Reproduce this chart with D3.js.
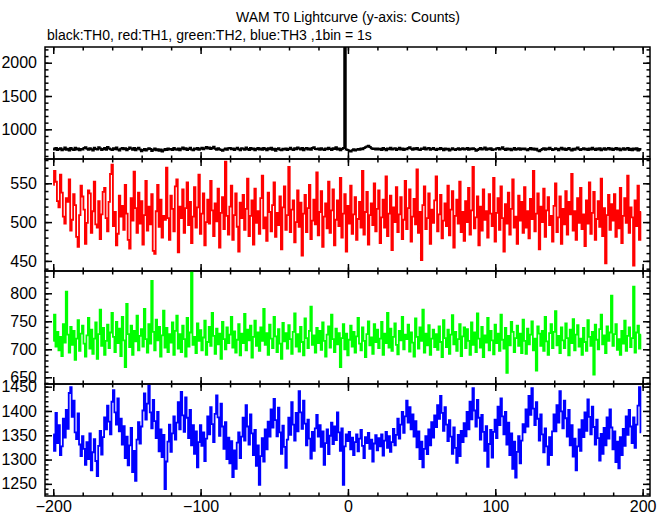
<!DOCTYPE html>
<html><head><meta charset="utf-8">
<script src="https://cdn.jsdelivr.net/npm/d3@7"></script>
<style>
html,body{margin:0;padding:0;background:#fff;}
svg{display:block;font-family:"Liberation Sans",Arial,sans-serif;}
</style></head>
<body><svg id="c" width="669" height="515"></svg>
<script>
// ---- data (1 s bins, time from -200 s) ----
const tStart = -200;
const th0 = [
712,695,721,688,703,716,684,699,727,693,708,681,719,702,690,724,697,711,686,705,
698,718,730,709,692,715,701,683,722,706,695,729,713,688,704,719,693,734,710,700,
689,714,702,726,695,680,708,721,699,715,687,703,728,711,694,718,684,707,722,697,
671,690,706,682,699,717,703,676,692,710,687,701,679,695,668,684,703,691,712,698,
705,689,720,702,694,713,686,708,725,699,716,691,704,722,697,685,711,700,719,693,
708,724,699,717,733,712,726,703,719,738,707,694,715,702,688,677,696,710,693,714,
720,699,713,690,707,724,701,686,716,709,693,727,704,691,718,700,712,687,706,721,
697,711,693,719,705,686,714,700,724,692,708,679,703,716,694,685,709,698,713,690,
706,723,699,689,715,702,727,710,696,719,684,707,721,698,712,693,718,730,705,699,
710,694,717,701,688,713,699,722,706,691,716,704,729,697,712,686,703,719,2400,695,
690,676,668,685,699,681,694,706,692,712,700,718,729,741,752,733,716,705,711,698,
713,697,708,690,719,704,686,711,700,723,695,709,716,691,704,722,698,713,689,707,
702,718,731,709,694,715,701,720,698,688,712,703,725,696,710,719,693,706,721,700,
691,708,699,719,705,687,712,696,709,683,698,715,702,689,706,717,692,703,714,697,
706,718,693,710,699,715,704,679,691,705,720,697,709,726,694,711,700,716,689,702,
695,710,721,698,713,730,704,690,712,697,708,684,701,719,694,706,715,692,711,699,
713,696,685,704,718,697,710,692,707,681,672,689,703,716,694,710,699,722,705,691,
700,716,703,687,709,724,695,712,689,704,718,697,683,708,694,712,725,701,688,705,
716,698,707,689,712,695,722,704,690,711,698,717,686,702,714,693,708,720,697,710,
689,705,718,696,711,684,700,715,693,707,721,690,709,686,712,697,715,683,704,694];
const th1 = [
548,566,552,527,519,561,538,507,498,531,526,555,489,503,536,522,481,468,509,547,
533,516,472,499,541,537,486,514,552,497,493,527,478,510,539,544,505,488,526,562,
574,495,513,470,485,534,507,521,490,548,511,477,466,531,502,565,518,486,538,498,
527,471,509,553,489,520,497,536,463,459,514,548,494,529,480,508,503,570,505,477,
534,517,488,546,555,461,520,505,542,486,518,551,496,526,473,507,545,493,519,561,
485,511,537,470,500,529,498,553,515,482,524,501,543,467,512,532,491,578,508,484,
520,547,477,509,537,494,462,525,505,535,490,517,556,482,508,528,471,543,499,514,
485,531,560,492,506,476,538,513,488,522,551,481,512,496,533,465,519,546,490,509,
571,487,516,528,474,500,541,494,525,457,511,535,487,518,548,478,502,529,497,564,
483,513,540,468,507,524,492,552,486,515,542,470,503,528,495,557,480,511,536,462,
521,498,547,485,510,532,477,504,526,493,566,484,513,539,471,509,524,496,550,488,
517,541,473,506,529,493,559,482,511,534,464,519,500,545,487,510,532,478,503,553,
491,518,542,475,507,530,497,568,486,513,451,522,546,491,505,537,472,516,499,528,
559,488,510,535,479,502,524,495,547,483,516,540,467,508,529,498,552,487,513,476,
527,500,544,484,515,571,492,506,533,470,520,489,542,503,514,480,536,511,495,557,
475,512,531,490,546,505,462,523,498,538,484,517,555,493,507,472,534,502,526,486,
545,493,514,479,530,504,566,488,511,537,465,520,500,543,481,515,532,496,508,475,
521,550,487,506,533,472,517,497,540,484,526,510,562,489,514,477,531,499,544,491,
510,469,528,498,551,485,512,539,477,504,527,494,556,482,518,447,509,535,490,523,
502,536,481,515,492,544,473,508,531,499,560,486,519,506,444,528,495,547,477,513];
const th2 = [
715,762,705,731,698,722,688,745,712,803,726,694,740,708,733,681,719,752,697,728,
742,710,687,725,756,701,735,692,719,748,683,727,771,706,738,690,715,744,702,730,
765,722,695,749,711,737,688,758,716,668,781,727,704,742,690,733,714,760,698,724,
736,705,772,718,694,745,710,822,731,698,753,716,740,687,725,769,703,738,695,727,
712,748,690,733,760,701,727,695,742,718,687,756,705,730,839,708,722,693,746,715,
734,698,721,751,690,713,740,706,765,724,692,737,709,728,683,749,718,700,739,711,
726,758,703,732,694,717,745,689,728,711,763,698,735,716,742,685,722,751,706,730,
697,739,715,772,708,729,690,744,719,702,758,723,695,736,710,683,747,714,729,701,
743,718,692,731,764,705,727,696,740,713,689,755,720,702,733,776,708,725,694,738,
711,733,699,748,715,687,726,741,703,762,718,695,737,709,729,668,720,745,700,728,
689,717,742,705,731,694,723,756,710,698,739,715,686,727,750,707,721,692,745,713,
735,702,719,749,690,728,711,765,703,737,697,722,746,708,691,733,716,758,700,726,
718,744,696,730,712,687,755,722,701,739,715,771,694,728,707,743,690,719,735,704,
727,699,741,713,686,752,720,704,735,692,726,761,709,731,697,718,745,688,723,739,
702,736,715,690,748,708,730,695,764,719,703,740,686,725,712,756,698,733,716,691,
744,711,728,697,762,717,701,738,658,724,707,749,731,695,720,742,706,728,693,753,
715,692,737,709,726,750,698,719,662,741,728,706,733,697,758,714,690,729,745,702,
731,768,707,724,693,739,716,702,746,720,689,735,711,754,698,726,743,705,719,690,
738,713,697,752,722,706,731,655,744,717,700,736,762,709,725,693,741,715,730,796,
706,727,745,699,718,690,733,710,751,697,724,739,704,720,812,694,730,742,701,726];
const th3 = [
1352,1318,1396,1334,1371,1309,1327,1384,1345,1402,1363,1437,1449,1388,1421,1356,1342,1395,1331,1307,
1348,1322,1289,1336,1301,1354,1278,1315,1342,1297,1266,1328,1359,1310,1346,1387,1362,1411,1378,1352,
1419,1443,1397,1372,1426,1358,1384,1331,1369,1303,1347,1288,1329,1365,1274,1318,1256,1341,1377,1333,
1368,1401,1436,1382,1415,1452,1397,1364,1423,1379,1344,1398,1317,1362,1305,1351,1239,1296,1337,1372,
1316,1354,1389,1341,1376,1418,1362,1439,1391,1357,1428,1386,1344,1402,1329,1371,1312,1358,1284,1336,
1371,1328,1356,1297,1343,1389,1352,1408,1373,1336,1394,1432,1387,1349,1415,1368,1322,1377,1301,1345,
1292,1338,1264,1319,1281,1335,1356,1303,1347,1386,1339,1412,1368,1331,1393,1354,1309,1361,1287,1329,
1248,1307,1344,1296,1362,1321,1378,1347,1403,1366,1425,1381,1348,1407,1356,1312,1370,1326,1283,1341,
1386,1351,1418,1372,1339,1396,1358,1441,1397,1363,1421,1374,1329,1382,1343,1302,1357,1318,1364,1392,
1347,1371,1326,1358,1289,1334,1362,1311,1349,1376,1332,1368,1340,1397,1356,1318,1364,1248,1327,1352,
1338,1357,1321,1345,1309,1336,1352,1317,1343,1361,1328,1303,1346,1334,1355,1322,1341,1296,1333,1350,
1319,1344,1327,1352,1308,1339,1357,1324,1348,1316,1336,1363,1329,1351,1384,1343,1372,1398,1355,1389,
1421,1376,1408,1362,1393,1347,1379,1325,1358,1301,1337,1284,1322,1348,1311,1362,1329,1377,1345,1391,
1367,1412,1384,1431,1396,1359,1408,1372,1338,1381,1347,1312,1366,1324,1293,1351,1307,1359,1336,1375,
1348,1398,1362,1419,1383,1447,1401,1368,1423,1386,1341,1392,1357,1318,1369,1285,1332,1361,1304,1357,
1382,1344,1409,1371,1426,1389,1352,1398,1331,1376,1309,1354,1281,1337,1263,1316,1348,1292,1339,1373,
1356,1403,1368,1431,1392,1447,1405,1371,1418,1384,1339,1393,1352,1315,1364,1327,1289,1346,1309,1358,
1393,1358,1412,1376,1441,1399,1364,1421,1385,1347,1402,1329,1371,1306,1343,1278,1327,1362,1318,1381,
1346,1397,1359,1424,1388,1352,1409,1367,1331,1382,1344,1298,1353,1312,1365,1329,1387,1343,1403,1366,
1321,1358,1295,1337,1282,1346,1309,1363,1328,1389,1351,1402,1368,1334,1387,1324,1372,1411,1449,1356];
const xTicksMajor = [-200, -100, 0, 100, 200];
const p1Ticks = [1000, 1500, 2000];
const p2Ticks = [450, 500, 550];
const p3Ticks = [650, 700, 750, 800];
const p4Ticks = [1250, 1300, 1350, 1400, 1450];
const titleText = "WAM T0 Lightcurve (y-axis: Counts)";
const subtitleText = "black:TH0, red:TH1, green:TH2, blue:TH3 ,1bin = 1s";

// ---- layout ----
const L = 45, R = 650;
const panels = [
  {data: th0, color: "#000", top: 47, bot: 159, dom: [554, 2236], ticks: p1Ticks, minorStep: 100, sw: 2},
  {data: th1, color: "#ff0000", top: 159, bot: 271, dom: [437, 581.3], ticks: p2Ticks, minorStep: 10, sw: 1.8},
  {data: th2, color: "#00ff00", top: 271, bot: 384, dom: [638, 839.8], ticks: p3Ticks, minorStep: 10, sw: 1.8},
  {data: th3, color: "#0000ff", top: 384, bot: 496, dom: [1225, 1455.5], ticks: p4Ticks, minorStep: 10, sw: 1.8}
];

const svg = d3.select("#c");
const x = d3.scaleLinear().domain([-205.6, 205]).range([L, R]);
const xMinor = d3.range(-200, 201, 20);

svg.append("text").attr("x", 348).attr("y", 22).attr("text-anchor", "middle")
  .attr("font-size", 14).text(titleText);
svg.append("text").attr("x", 47).attr("y", 40)
  .attr("font-size", 14).text(subtitleText);

panels.forEach((p, k) => {
  const y = d3.scaleLinear().domain(p.dom).range([p.bot, p.top]);
  const g = svg.append("g");
  const cid = "clip" + k;
  svg.append("clipPath").attr("id", cid).append("rect")
    .attr("x", L).attr("y", p.top).attr("width", R - L).attr("height", p.bot - p.top);
  const line = d3.line().x((d, i) => x(tStart + i)).y(d => y(d)).curve(d3.curveStep);
  g.append("path").datum(p.data).attr("clip-path", `url(#${cid})`)
    .attr("fill", "none").attr("stroke", p.color).attr("stroke-width", p.sw)
    .attr("d", line);

  const minorY = d3.range(Math.ceil(p.dom[0] / p.minorStep) * p.minorStep, p.dom[1], p.minorStep);
  const axStyle = sel => { sel.select(".domain").remove(); sel.selectAll("line").attr("stroke", "#000").attr("stroke-width", 1.5); };

  svg.append("g").attr("transform", `translate(${L},0)`)
    .call(d3.axisLeft(y).tickValues(minorY).tickSize(-3.5).tickFormat(""))
    .call(axStyle);
  svg.append("g").attr("transform", `translate(${L},0)`)
    .call(d3.axisLeft(y).tickValues(p.ticks).tickSize(-7).tickPadding(8).tickFormat(d3.format("d")))
    .call(axStyle)
    .call(s => s.selectAll("text").attr("font-size", 16).attr("fill", "#000")
      .attr("font-family", "'Liberation Sans',Arial,sans-serif"));
  svg.append("g").attr("transform", `translate(${R},0)`)
    .call(d3.axisRight(y).tickValues(minorY).tickSize(-3.5).tickFormat(""))
    .call(axStyle);
  svg.append("g").attr("transform", `translate(${R},0)`)
    .call(d3.axisRight(y).tickValues(p.ticks).tickSize(-7).tickFormat(""))
    .call(axStyle);
  [[p.top, d3.axisTop], [p.bot, d3.axisBottom]].forEach(([yy, ax]) => {
    svg.append("g").attr("transform", `translate(0,${yy})`)
      .call(ax(x).tickValues(xMinor).tickSize(-3.5).tickFormat(""))
      .call(axStyle);
    svg.append("g").attr("transform", `translate(0,${yy})`)
      .call(ax(x).tickValues(xTicksMajor).tickSize(-7).tickFormat(""))
      .call(axStyle);
  });
  svg.append("rect").attr("x", L).attr("y", p.top).attr("width", R - L).attr("height", p.bot - p.top)
    .attr("fill", "none").attr("stroke", "#000").attr("stroke-width", 1.5);

  if (k === panels.length - 1) {
    svg.append("g").attr("transform", `translate(0,${p.bot})`)
      .call(d3.axisBottom(x).tickValues(xTicksMajor).tickSize(0).tickPadding(5).tickFormat(d3.format("d")))
      .call(s => s.select(".domain").remove())
      .call(s => s.selectAll("text").attr("font-size", 16).attr("fill", "#000")
        .attr("font-family", "'Liberation Sans',Arial,sans-serif"));
  }
});
</script></body></html>
